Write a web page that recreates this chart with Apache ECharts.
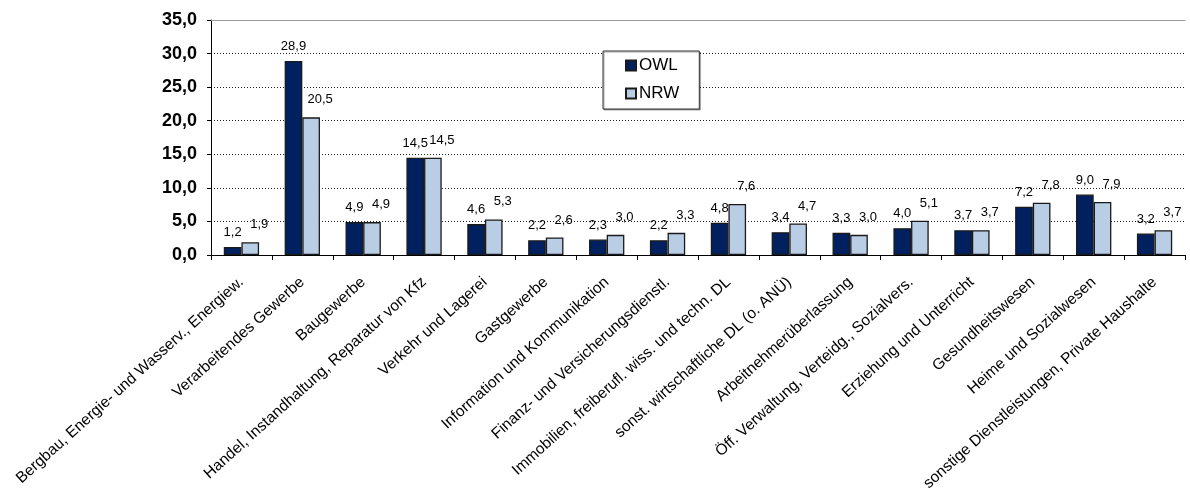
<!DOCTYPE html>
<html>
<head>
<meta charset="utf-8">
<script src="https://cdn.jsdelivr.net/npm/echarts@6/dist/echarts.min.js"></script>
<style>
  html, body { margin: 0; padding: 0; background: #fff; }
  #chart { width: 1190px; height: 496px; }
</style>
</head>
<body>
<div id="chart"></div>
<script>
// Wirtschaftszweige (Anteile in %)
const categories = [
  'Bergbau, Energie- und Wasserv., Energiew.',
  'Verarbeitendes Gewerbe',
  'Baugewerbe',
  'Handel, Instandhaltung, Reparatur von Kfz',
  'Verkehr und Lagerei',
  'Gastgewerbe',
  'Information und Kommunikation',
  'Finanz- und Versicherungsdienstl.',
  'Immobilien, freiberufl. wiss. und techn. DL',
  'sonst. wirtschaftliche DL (o. ANÜ)',
  'Arbeitnehmerüberlassung',
  'Öff. Verwaltung, Verteidg., Sozialvers.',
  'Erziehung und Unterricht',
  'Gesundheitswesen',
  'Heime und Sozialwesen',
  'sonstige Dienstleistungen, Private Haushalte'
];
const owl = [1.2, 28.9, 4.9, 14.5, 4.6, 2.2, 2.3, 2.2, 4.8, 3.4, 3.3, 4.0, 3.7, 7.2, 9.0, 3.2];
const nrw = [1.9, 20.5, 4.9, 14.5, 5.3, 2.6, 3.0, 3.3, 7.6, 4.7, 3.0, 5.1, 3.7, 7.8, 7.9, 3.7];
const seriesNames = ['OWL', 'NRW'];

const FONT = '"Liberation Sans", Arial, sans-serif';
const fmt = v => v.toFixed(1).replace('.', ',');

const chart = echarts.init(document.getElementById('chart'));
chart.setOption({
  animation: false,
  backgroundColor: '#ffffff',
  textStyle: { fontFamily: FONT },
  grid: { left: 211, right: 5, top: 20, bottom: 241, containLabel: false },
  legend: {
    data: seriesNames,
    orient: 'vertical',
    left: 603,
    top: 51,
    padding: [6, 20, 7, 22],
    itemGap: 11,
    itemWidth: 10,
    itemHeight: 10,
    icon: 'rect',
    borderColor: '#333',
    borderWidth: 1,
    backgroundColor: '#fff',
    textStyle: { fontFamily: FONT, fontSize: 17, color: '#000', padding: [0, 0, 0, -2] },
    shadowColor: 'rgba(0,0,0,0.35)',
    shadowOffsetX: 1,
    shadowOffsetY: 1
  },
  xAxis: [{
    type: 'category',
    data: categories,
    boundaryGap: true,
    axisLine: { show: true, lineStyle: { color: '#000', width: 1 } },
    axisTick: { show: true, length: 5, lineStyle: { color: '#000' } },
    axisLabel: {
      interval: 0,
      rotate: 42,
      fontFamily: FONT,
      fontSize: 15.5,
      color: '#000',
      margin: 25
    }
  }, {
    // solid frame line along the top of the plot
    type: 'category',
    position: 'top',
    data: categories,
    axisLine: { show: true, lineStyle: { color: '#999', width: 1 } },
    axisTick: { show: false },
    axisLabel: { show: false }
  }],
  yAxis: {
    type: 'value',
    min: 0,
    max: 35,
    interval: 5,
    axisLine: { show: true, lineStyle: { color: '#000', width: 1 } },
    axisTick: { show: true, length: 4, lineStyle: { color: '#000' } },
    axisLabel: {
      formatter: v => fmt(v),
      fontFamily: FONT,
      fontSize: 18,
      fontWeight: 'bold',
      color: '#000',
      margin: 14
    },
    splitLine: { show: true, lineStyle: { color: '#222', type: [1, 2], width: 1 } }
  },
  series: [{
    name: seriesNames[0],
    type: 'bar',
    data: owl,
    barGap: '0%',
    barCategoryGap: '42%',
    itemStyle: { color: '#002060', borderColor: '#1a1a1a', borderWidth: 1.3 },
    label: {
      show: true,
      position: 'top',
      distance: 8,
      formatter: p => fmt(p.value),
      fontFamily: FONT,
      fontSize: 13,
      color: '#000'
    }
  }, {
    name: seriesNames[1],
    type: 'bar',
    data: nrw,
    itemStyle: { color: '#b9cde5', borderColor: '#1a1a1a', borderWidth: 1.3 },
    label: {
      show: true,
      position: 'top',
      distance: 11,
      offset: [9, 0],
      formatter: p => fmt(p.value),
      fontFamily: FONT,
      fontSize: 13,
      color: '#000'
    }
  }]
});
</script>
</body>
</html>
